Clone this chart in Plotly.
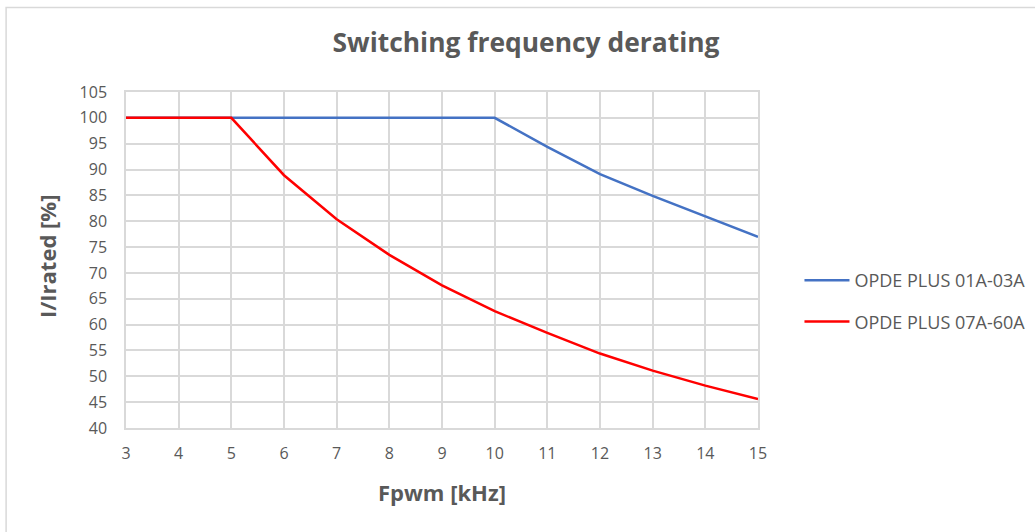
import plotly.graph_objects as go

# Switching frequency (kHz) and permitted output current as % of rated
freq_khz = [3, 4, 5, 6, 7, 8, 9, 10, 11, 12, 13, 14, 15]
opde_01a_03a = [100, 100, 100, 100, 100, 100, 100, 100, 94.4, 89.1, 84.9, 80.9, 77.0]
opde_07a_60a = [100, 100, 100, 88.9, 80.4, 73.5, 67.6, 62.6, 58.4, 54.4, 51.1, 48.2, 45.6]

x_ticks = list(range(3, 16))
y_ticks = list(range(40, 106, 5))

W, H = 1035, 532
L, R, T, B = 126, 276.5, 91.7, 103.7
pw, ph = W - L - R, H - T - B


def px_x(x):
    return (x - L) / pw


def px_y(y):
    return 1 - (y - T) / ph


font_family = "'Open Sans', sans-serif"
grey_text = "#595959"
grid = "#d9d9d9"

fig = go.Figure()
fig.add_trace(go.Scatter(
    x=freq_khz, y=opde_01a_03a, mode="lines", name="OPDE PLUS 01A-03A",
    legendgroup="a", line=dict(color="#4472C4", width=2.5),
))
fig.add_trace(go.Scatter(
    x=freq_khz, y=opde_07a_60a, mode="lines", name="OPDE PLUS 07A-60A",
    legendgroup="b", line=dict(color="#FF0000", width=2.5),
))

fig.update_layout(
    width=W, height=H,
    margin=dict(l=L, r=R, t=T, b=B, autoexpand=False),
    paper_bgcolor="white", plot_bgcolor="white",
    font=dict(family=font_family, color=grey_text, size=16),
    title=dict(
        text="<b>Switching frequency derating</b>",
        x=526 / W, xanchor="center", y=1 - 43 / H, yanchor="middle",
        font=dict(size=26.4, color=grey_text, family=font_family),
    ),
    xaxis=dict(
        range=[3, 15], tickvals=x_ticks, ticktext=[str(v) for v in x_ticks],
        showgrid=True, gridcolor=grid, gridwidth=1.5,
        showline=True, linecolor=grid, linewidth=1.5, mirror=True,
        zeroline=False, ticks="", ticklen=0, ticklabelstandoff=10,
        tickfont=dict(size=16, color=grey_text),
    ),
    yaxis=dict(
        range=[40, 105], tickvals=y_ticks, ticktext=[str(v) for v in y_ticks],
        showgrid=True, gridcolor=grid, gridwidth=1.5,
        showline=True, linecolor=grid, linewidth=1.5, mirror=True,
        zeroline=False, ticks="", ticklen=0, ticklabelstandoff=14,
        tickfont=dict(size=16, color=grey_text),
    ),
    legend=dict(
        x=px_x(800), xanchor="left", y=px_y(301), yanchor="middle",
        font=dict(size=18, color=grey_text), bgcolor="rgba(0,0,0,0)",
        tracegroupgap=15, itemwidth=45,
    ),
    showlegend=True,
)

# Axis titles
fig.add_annotation(
    text="<b>Fpwm [kHz]</b>", xref="paper", yref="paper",
    x=px_x(442.5), y=px_y(492), xanchor="center", yanchor="middle",
    showarrow=False, font=dict(size=22, color=grey_text, family=font_family),
)
fig.add_annotation(
    text="<b>I/Irated [%]</b>", xref="paper", yref="paper",
    x=px_x(47), y=px_y(256), xanchor="center", yanchor="middle", textangle=-90,
    showarrow=False, font=dict(size=22, color=grey_text, family=font_family),
)

# Outer chart frame
fig.add_shape(
    type="rect", xref="paper", yref="paper",
    x0=px_x(6), x1=px_x(W + 5),
    y0=px_y(H + 5), y1=px_y(7),
    line=dict(color=grid, width=1.5), fillcolor="rgba(0,0,0,0)", layer="below",
)

fig.write_html("out.html")
